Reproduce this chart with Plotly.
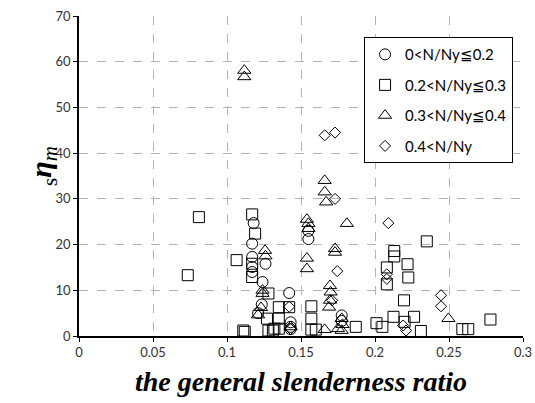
import plotly.graph_objects as go

# ---- data ----
circle_x = [0.118, 0.117, 0.117, 0.117, 0.117, 0.126, 0.124, 0.1235, 0.121, 0.142, 0.143, 0.143, 0.155, 0.155, 0.1775, 0.1775, 0.143]
circle_y = [24.7, 20.2, 17.3, 15.1, 14.0, 15.8, 11.8, 6.9, 5.0, 9.4, 3.0, 2.0, 23.0, 21.2, 4.5, 3.3, 1.5]

square_x = [0.0735, 0.081, 0.1065, 0.111, 0.112, 0.117, 0.119, 0.117, 0.117, 0.128, 0.127, 0.128,
            0.131, 0.132, 0.135, 0.135, 0.135, 0.142, 0.157, 0.157, 0.157, 0.160, 0.187, 0.201,
            0.205, 0.208, 0.208, 0.213, 0.213, 0.2125, 0.220, 0.2196, 0.222, 0.2225, 0.2264, 0.231,
            0.235, 0.259, 0.263, 0.278]
square_y = [13.3, 26.0, 16.6, 1.2, 0.9, 26.6, 22.4, 15.8, 12.9, 9.3, 3.8, 1.2,
            1.2, 1.6, 6.3, 3.8, 1.6, 6.3, 6.5, 3.8, 1.4, 1.4, 2.0, 2.8,
            2.0, 15.0, 11.3, 18.6, 17.4, 4.2, 3.1, 7.8, 15.7, 12.8, 4.2, 1.1,
            20.7, 1.5, 1.5, 3.6]

triangle_x = [0.1117, 0.1117, 0.1257, 0.126, 0.124, 0.124, 0.123, 0.121, 0.154, 0.155, 0.155, 0.154,
              0.154, 0.166, 0.166, 0.167, 0.181, 0.173, 0.173, 0.1696, 0.170, 0.1696, 0.169, 0.166,
              0.175, 0.1775, 0.178, 0.143, 0.2496, 0.1775]
triangle_y = [58.1, 56.7, 18.7, 17.5, 10.0, 9.3, 6.2, 4.6, 25.5, 24.6, 23.5, 17.0,
              14.7, 34.0, 31.5, 29.3, 24.6, 19.1, 18.3, 11.0, 9.6, 7.8, 6.3, 1.4,
              1.6, 1.2, 2.5, 2.0, 3.8, 3.8]

diamond_x = [0.166, 0.173, 0.173, 0.1745, 0.171, 0.142, 0.143, 0.209, 0.208, 0.208, 0.219, 0.221, 0.2446, 0.2446]
diamond_y = [43.9, 44.5, 30.0, 14.2, 7.8, 6.4, 1.5, 24.7, 13.5, 12.5, 2.3, 1.2, 8.9, 6.5]

series_names = ["0<N/Ny≦0.2", "0.2<N/Ny≦0.3", "0.3<N/Ny≦0.4", "0.4<N/Ny"]

x_ticks = [0, 0.05, 0.1, 0.15, 0.2, 0.25, 0.3]
x_tick_labels = ["0", "0.05", "0.1", "0.15", "0.2", "0.25", "0.3"]
y_ticks = [0, 10, 20, 30, 40, 50, 60, 70]

# ---- figure ----
series = [
    (circle_x, circle_y, "circle", 11),
    (square_x, square_y, "square", 11),
    (triangle_x, triangle_y, "triangle-up", 11.5),
    (diamond_x, diamond_y, "diamond", 8.5),
]

fig = go.Figure()
for i, ((xs, ys, sym, sz), name) in enumerate(zip(series, series_names)):
    fig.add_trace(go.Scatter(
        x=xs, y=ys, mode="markers", name=name, legendgroup=f"g{i}",
        marker=dict(symbol=sym, size=sz, color="rgba(0,0,0,0)",
                    line=dict(color="black", width=1)),
    ))

tick_font = dict(family="Lato, Open Sans, sans-serif", size=13, color="#333333")

fig.update_layout(
    width=535, height=403,
    margin=dict(l=79, r=12, t=16, b=67, autoexpand=False),
    paper_bgcolor="white", plot_bgcolor="white",
    showlegend=True,
    legend=dict(
        x=0.642, y=0.934, xanchor="left", yanchor="top",
        bgcolor="white", bordercolor="black", borderwidth=1,
        font=dict(family="Lato, Open Sans, sans-serif", size=15, color="black"),
        tracegroupgap=8, itemwidth=30, traceorder="grouped",
    ),
    xaxis=dict(
        range=[0, 0.3], tickvals=x_ticks, ticktext=x_tick_labels,
        showgrid=True, gridcolor="#b4b4b4", griddash="dash", gridwidth=1,
        showline=True, linecolor="black", linewidth=1.5,
        ticks="outside", ticklen=4, tickcolor="black",
        tickfont=tick_font, zeroline=False, automargin=False,
        title=dict(text="<b><i>the general slenderness ratio</i></b>",
                   font=dict(family="Liberation Serif", size=28, color="black"),
                   standoff=12),
    ),
    yaxis=dict(
        range=[0, 70], tickvals=y_ticks,
        showgrid=True, gridcolor="#b4b4b4", griddash="dash", gridwidth=1,
        showline=True, linecolor="black", linewidth=1.5,
        ticks="outside", ticklen=4, tickcolor="black",
        tickfont=tick_font, zeroline=False, automargin=False,
    ),
    annotations=[dict(
        text="<sub>s</sub><b><i>η</i></b><sub><i>m</i></sub>",
        xref="paper", yref="paper", x=0, y=0.5, xshift=-57, yshift=10,
        textangle=-90, showarrow=False,
        font=dict(family="Liberation Serif", size=30, color="black"),
    )],
)

fig.write_html("out.html")
